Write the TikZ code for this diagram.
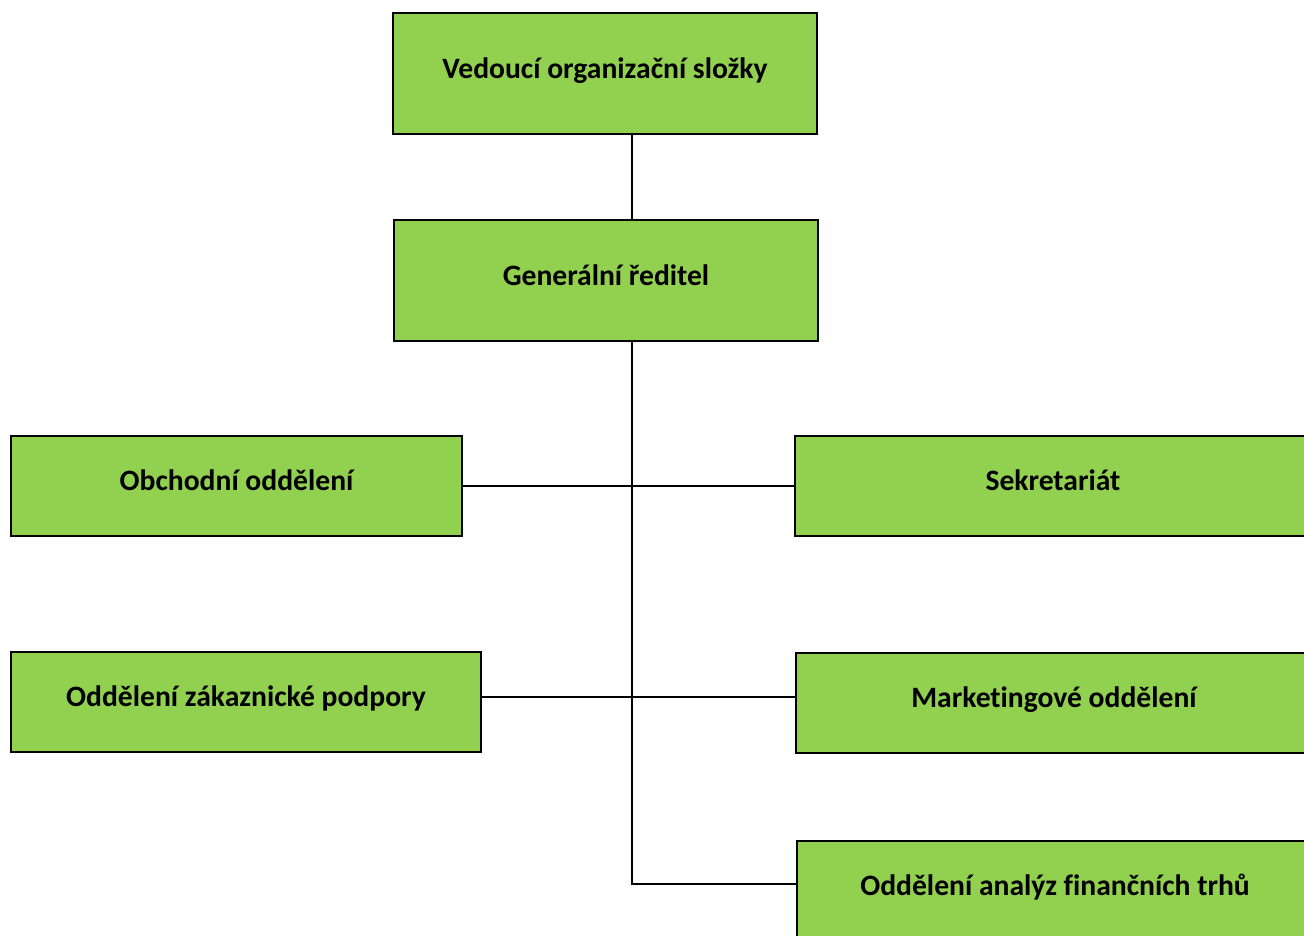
\documentclass[tikz,border=0pt]{standalone}
\usepackage{fontspec}
\setmainfont{Carlito}[Ligatures=NoCommon]
\definecolor{orggreen}{HTML}{92D050}
\tikzset{
  unit/.style={draw, line width=2pt, fill=orggreen, inner sep=0pt, minimum height=100},
  unittext/.style={font=\fontsize{29.6}{35}\selectfont\bfseries, text height=0.75em, text depth=0.2em, inner sep=0pt, yshift=-2},
  link/.style={line width=1.6pt}
}

\begin{document}
\begin{tikzpicture}[x=1pt, y=-1pt]
\useasboundingbox (0,0) rectangle (1304,935);
\clip (0,0) rectangle (1304,935);
% Units
    \node[unit, minimum width=424, minimum height=121, label={[unittext]center:Vedoucí organizační složky}] (vedouci) at (605,73.5) {};
    \node[unit, minimum width=424, minimum height=121, label={[unittext]center:Generální ředitel}] (general) at (606,280.5) {};
    \node[unit, minimum width=451, label={[unittext]center:Obchodní oddělení}] (obchod) at (236.5,486) {};
    \node[unit, minimum width=470, label={[unittext]center:Oddělení zákaznické podpory}] (podpora) at (246,702) {};
    \node[unit, minimum width=516, label={[unittext]center:Sekretariát}] (sekretariat) at (1053,486) {};
    \node[unit, minimum width=516, label={[unittext]center:Marketingové oddělení}] (marketing) at (1054,703) {};
    \node[unit, minimum width=516, label={[unittext]center:Oddělení analýz finančních trhů}] (analyza) at (1055,891) {};
% Links
    \coordinate (trunk) at (632,0);
    \draw[link] (vedouci.south -| trunk) -- (general.north -| trunk);
    \draw[link] (general.south -| trunk) |- ([yshift=7]analyza.west);
    \draw[link] (obchod.east) -- (sekretariat.west);
    \draw[link] ([yshift=5]podpora.east) -- ([yshift=6]marketing.west);
\end{tikzpicture}
\end{document}
